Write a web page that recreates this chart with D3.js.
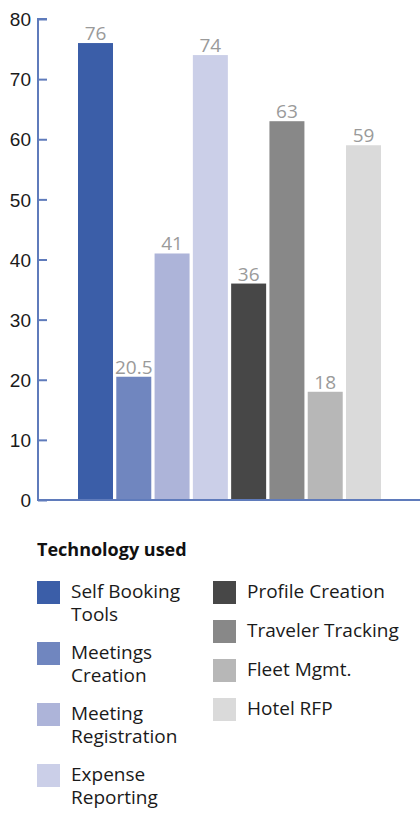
<!DOCTYPE html>
<html>
<head>
<meta charset="utf-8">
<script src="https://cdn.jsdelivr.net/npm/d3@7"></script>
<style>
  body { margin: 0; background: #fff; }
  svg { display: block; font-family: "Open Sans", sans-serif; }
</style>
</head>
<body>
<svg id="chart" width="420" height="813"></svg>
<script>
const categories = ["Self Booking Tools", "Meetings Creation", "Meeting Registration", "Expense Reporting",
                    "Profile Creation", "Traveler Tracking", "Fleet Mgmt.", "Hotel RFP"];
const values = [76, 20.5, 41, 74, 36, 63, 18, 59];
const colors = ["#3b5ea8", "#7086bf", "#adb4d9", "#cbcfe8", "#474747", "#888888", "#b7b7b7", "#dadada"];
const yTicks = [0, 10, 20, 30, 40, 50, 60, 70, 80];
const legendTitle = "Technology used";

const svg = d3.select("#chart");
const axisColor = "#5f7bbb";

const y = d3.scaleLinear().domain([0, 80]).range([500, 19]);
const x = d3.scaleBand().domain(categories).range([78, 381]).paddingInner(0.086).paddingOuter(0);
const color = d3.scaleOrdinal().domain(categories).range(colors);

// bars
svg.append("g").selectAll("rect").data(categories).join("rect")
  .attr("x", d => x(d))
  .attr("width", x.bandwidth())
  .attr("y", (d, i) => y(values[i]))
  .attr("height", (d, i) => y(0) - y(values[i]))
  .attr("fill", d => color(d));

// value labels
svg.append("g").selectAll("text").data(categories).join("text")
  .attr("x", d => x(d) + x.bandwidth() / 2)
  .attr("y", (d, i) => y(values[i]) - 3)
  .attr("text-anchor", "middle")
  .attr("fill", "#9a9a9a")
  .style("font-size", "19px")
  .text((d, i) => values[i]);

// y axis
const yAxis = d3.axisRight(y).tickValues(yTicks).tickSize(9).tickFormat(d3.format("d"));
const gy = svg.append("g").attr("transform", "translate(38,0)").call(yAxis);
gy.select(".domain").attr("stroke", axisColor).attr("stroke-width", 2)
  .attr("d", `M9,${y(80)}H0V${y(0)}`);
gy.selectAll(".tick line").attr("stroke", axisColor).attr("stroke-width", 2);
gy.selectAll(".tick text")
  .attr("x", -7).attr("text-anchor", "end").attr("dy", "0.35em")
  .attr("fill", "#1a1a1a").style("font-size", "19px");

// x baseline
svg.append("line")
  .attr("x1", 37).attr("x2", 420)
  .attr("y1", y(0)).attr("y2", y(0))
  .attr("stroke", axisColor).attr("stroke-width", 2);

// legend
svg.append("text").attr("x", 37).attr("y", 556)
  .attr("fill", "#111").style("font-size", "18px").style("font-weight", "bold")
  .text(legendTitle);

const leftCol = { x: 37, y0: 581, step: 61, maxW: 130 };
const rightCol = { x: 213, y0: 581, step: 39, maxW: 200 };

function wrapLines(text, maxW, size) {
  const tmp = svg.append("text").style("font-size", size + "px");
  const words = text.split(" ");
  const lines = [];
  let cur = "";
  words.forEach(w => {
    const test = cur ? cur + " " + w : w;
    tmp.text(test);
    if (tmp.node().getComputedTextLength() > maxW && cur) { lines.push(cur); cur = w; }
    else cur = test;
  });
  if (cur) lines.push(cur);
  tmp.remove();
  return lines;
}

const lg = svg.append("g");
categories.forEach((c, i) => {
  const col = i < 4 ? leftCol : rightCol;
  const k = i < 4 ? i : i - 4;
  const gx = col.x, gyy = col.y0 + k * col.step;
  lg.append("rect").attr("x", gx).attr("y", gyy).attr("width", 23).attr("height", 23).attr("fill", color(c));
  const lines = wrapLines(c, col.maxW, 19);
  const t = lg.append("text").attr("x", gx + 34).attr("y", gyy + 17)
    .attr("fill", "#1a1a1a").style("font-size", "19px");
  lines.forEach((ln, j) => t.append("tspan").attr("x", gx + 34).attr("dy", j === 0 ? 0 : 23).text(ln));
});
</script>
</body>
</html>
